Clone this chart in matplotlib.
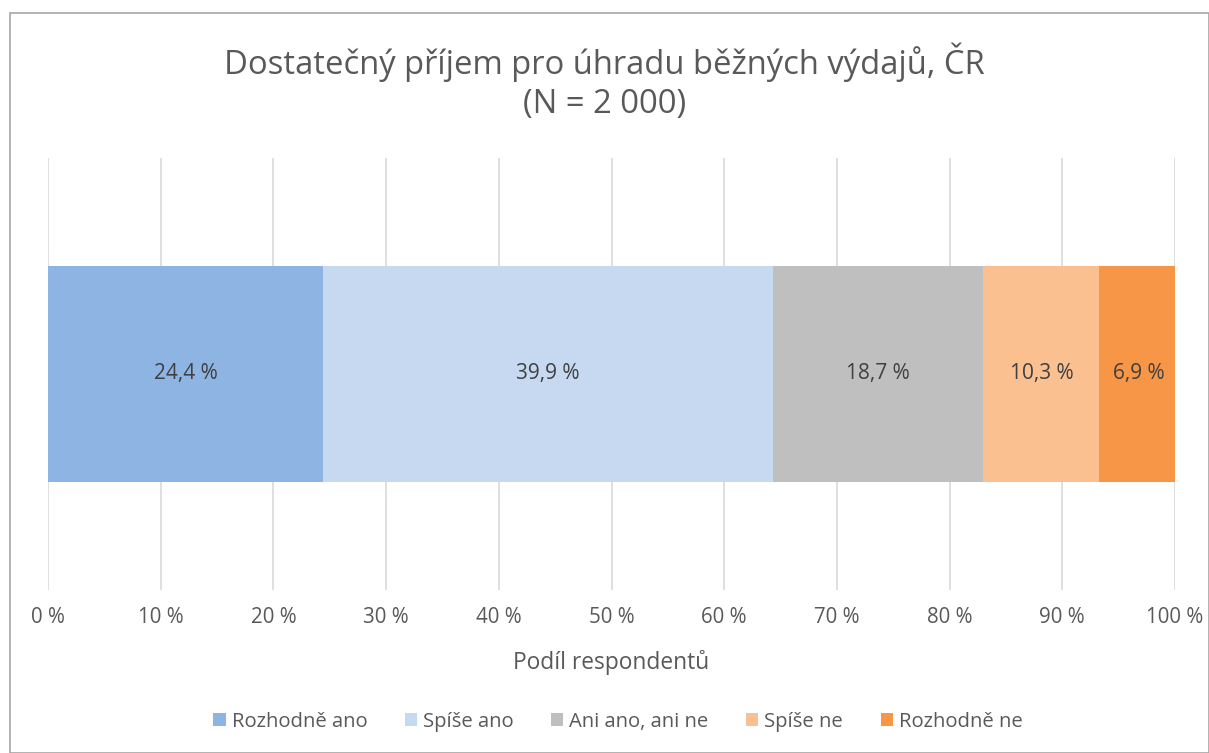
import matplotlib.pyplot as plt
from matplotlib.patches import Rectangle

plt.rcParams['font.family'] = ['Open Sans', 'DejaVu Sans']

categories = ['Rozhodně ano', 'Spíše ano', 'Ani ano, ani ne', 'Spíše ne', 'Rozhodně ne']
values = [24.4, 39.9, 18.7, 10.3, 6.9]
labels = ['24,4 %', '39,9 %', '18,7 %', '10,3 %', '6,9 %']
colors = ['#8EB4E3', '#C6D9F1', '#BFBFBF', '#FAC090', '#F79646']
ticks = list(range(0, 101, 10))
tick_labels = ['%d %%' % t for t in ticks]

txt = '#595959'

fig = plt.figure(figsize=(12.09, 7.53), dpi=100)
fig.patches.append(Rectangle((10 / 1209, 0), 1 - 10 / 1209, 1 - 13 / 753, transform=fig.transFigure,
                             fill=False, edgecolor='#A6A6A6', linewidth=1.2))
ax = fig.add_axes([48 / 1209, 1 - 590 / 753, (1175 - 48) / 1209, (590 - 158) / 753])

left = 0
for v, lab, c, name in zip(values, labels, colors, categories):
    ax.barh(0, v, left=left, height=0.5, color=c, label=name, zorder=3)
    ax.text(left + v / 2, 0, lab, ha='center', va='center', fontsize=15, color='#404040', zorder=4)
    left += v

ax.set_xlim(0, 100)
ax.set_ylim(-0.5, 0.5)
ax.set_yticks([])
ax.set_xticks(ticks)
ax.set_xticklabels(tick_labels, fontsize=14.8, color=txt)
ax.tick_params(axis='x', length=0, pad=12)
ax.grid(axis='x', color='#D9D9D9', linewidth=1.2, zorder=0)
for s in ax.spines.values():
    s.set_visible(False)
ax.set_xlabel('Podíl respondentů', fontsize=16.4, color=txt, labelpad=16)

fig.text(0.5, 1 - 62 / 753, 'Dostatečný příjem pro úhradu běžných výdajů, ČR', ha='center', va='center',
         fontsize=23.6, color=txt)
fig.text(0.5, 1 - 104 / 753, '(N = 2 000)', ha='center', va='center', fontsize=23.6, color=txt)

fig.legend(loc='center', bbox_to_anchor=(618 / 1209, 1 - 722 / 753), ncol=5, frameon=False, fontsize=14.6,
           handlelength=0.6, handleheight=0.6, handletextpad=0.3, columnspacing=1.85, labelcolor=txt)

fig.savefig('out.png', dpi=100)
